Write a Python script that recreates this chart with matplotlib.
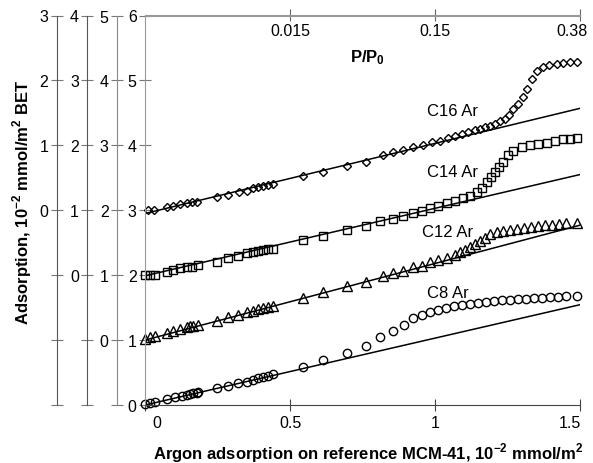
import numpy as np
import matplotlib.pyplot as plt
from matplotlib.transforms import ScaledTranslation

plt.rcParams['font.family'] = ['Liberation Sans', 'DejaVu Sans']
plt.rcParams['mathtext.fontset'] = 'custom'
plt.rcParams['mathtext.rm'] = 'Liberation Sans'
plt.rcParams['mathtext.bf'] = 'Liberation Sans:bold'

# Ar adsorption on the reference MCM-41 (x) vs adsorption on the samples (own axis units)
x_c8 = [0.0, 0.017, 0.034, 0.075, 0.103, 0.126, 0.144, 0.155, 0.167, 0.178,
        0.184, 0.247, 0.287, 0.322, 0.351, 0.374, 0.391, 0.408, 0.425, 0.44,
        0.546, 0.613, 0.695, 0.761, 0.81, 0.855, 0.893, 0.924, 0.955, 0.983,
        1.01, 1.038, 1.066, 1.093, 1.121, 1.148, 1.176, 1.203, 1.231, 1.259,
        1.286, 1.314, 1.341, 1.369, 1.397, 1.424, 1.452, 1.49]
y_c8 = [0.01, 0.03, 0.05, 0.09, 0.12, 0.14, 0.16, 0.17, 0.18, 0.19,
        0.2, 0.26, 0.3, 0.34, 0.36, 0.39, 0.41, 0.43, 0.45, 0.47,
        0.59, 0.69, 0.8, 0.91, 1.04, 1.14, 1.24, 1.34, 1.39, 1.43,
        1.46, 1.49, 1.52, 1.54, 1.56, 1.57, 1.59, 1.6, 1.61, 1.62,
        1.63, 1.64, 1.65, 1.65, 1.66, 1.67, 1.68, 1.68]

x_c12 = [0.0, 0.017, 0.034, 0.075, 0.097, 0.121, 0.144, 0.155, 0.166, 0.183,
         0.247, 0.286, 0.321, 0.351, 0.372, 0.39, 0.407, 0.424, 0.44, 0.545,
         0.613, 0.695, 0.761, 0.821, 0.855, 0.89, 0.924, 0.955, 0.983, 1.01,
         1.041, 1.069, 1.086, 1.103, 1.121, 1.138, 1.155, 1.172, 1.19, 1.214,
         1.234, 1.259, 1.283, 1.307, 1.331, 1.355, 1.379, 1.403, 1.428, 1.452,
         1.49]
y_c12 = [0.01, 0.04, 0.06, 0.11, 0.14, 0.17, 0.2, 0.21, 0.22, 0.23,
         0.3, 0.35, 0.39, 0.43, 0.45, 0.48, 0.49, 0.51, 0.53, 0.65,
         0.74, 0.83, 0.9, 0.98, 1.03, 1.06, 1.12, 1.14, 1.2, 1.23,
         1.27, 1.31, 1.35, 1.38, 1.43, 1.48, 1.52, 1.58, 1.63, 1.66,
         1.68, 1.69, 1.71, 1.72, 1.74, 1.75, 1.77, 1.78, 1.79, 1.8,
         1.81]

x_c14 = [0.0, 0.017, 0.034, 0.075, 0.098, 0.121, 0.144, 0.161, 0.184, 0.247,
         0.287, 0.322, 0.351, 0.374, 0.391, 0.408, 0.425, 0.442, 0.546, 0.613,
         0.695, 0.761, 0.81, 0.855, 0.89, 0.924, 0.955, 0.983, 1.01, 1.041,
         1.069, 1.097, 1.121, 1.145, 1.162, 1.179, 1.193, 1.207, 1.221, 1.234,
         1.252, 1.269, 1.3, 1.328, 1.355, 1.386, 1.414, 1.441, 1.466, 1.49]
y_c14 = [0.0, 0.0, 0.01, 0.05, 0.08, 0.11, 0.12, 0.13, 0.15, 0.21,
         0.26, 0.3, 0.34, 0.35, 0.37, 0.39, 0.4, 0.41, 0.54, 0.61,
         0.69, 0.76, 0.84, 0.87, 0.91, 0.96, 0.99, 1.04, 1.07, 1.11,
         1.14, 1.19, 1.22, 1.28, 1.34, 1.44, 1.51, 1.59, 1.67, 1.75,
         1.85, 1.91, 1.97, 2.0, 2.02, 2.04, 2.07, 2.09, 2.1, 2.11]

x_c16 = [0.01, 0.03, 0.075, 0.098, 0.121, 0.144, 0.161, 0.178, 0.247, 0.286,
         0.325, 0.351, 0.374, 0.391, 0.408, 0.425, 0.442, 0.546, 0.615, 0.695,
         0.761, 0.821, 0.855, 0.89, 0.924, 0.959, 0.99, 1.017, 1.045, 1.069,
         1.093, 1.114, 1.138, 1.155, 1.172, 1.19, 1.207, 1.224, 1.241, 1.255,
         1.269, 1.286, 1.303, 1.317, 1.334, 1.352, 1.372, 1.393, 1.421, 1.441,
         1.466, 1.49]
y_c16 = [0.0, 0.01, 0.05, 0.07, 0.09, 0.11, 0.12, 0.13, 0.2, 0.24,
         0.28, 0.3, 0.34, 0.36, 0.38, 0.39, 0.4, 0.52, 0.59, 0.68,
         0.75, 0.85, 0.89, 0.93, 0.97, 1.01, 1.05, 1.07, 1.11, 1.14,
         1.18, 1.2, 1.23, 1.25, 1.28, 1.3, 1.33, 1.37, 1.41, 1.47,
         1.56, 1.64, 1.74, 1.87, 2.02, 2.15, 2.2, 2.23, 2.25, 2.27,
         2.28, 2.29]

names = ['C8 Ar', 'C12 Ar', 'C14 Ar', 'C16 Ar']
offsets = [0, 1, 2, 3]
# linear fits of the low-pressure part: intercept, slope
fit_c8 = [0.0, 1.03]
fit_c12 = [0.0, 1.18]
fit_c14 = [-0.01, 1.04]
fit_c16 = [-0.05, 1.08]

pp0_pos = [0.5, 1.0, 1.5]
pp0_labels = ['0.015', '0.15', '0.38']

series = [(x_c8, y_c8, fit_c8, 'o', 6.0),
          (x_c12, y_c12, fit_c12, '^', 6.5),
          (x_c14, y_c14, fit_c14, 's', 5.8),
          (x_c16, y_c16, fit_c16, 'D', 4.3)]
label_pos = [(1.045, 1.74), (1.045, 2.68), (1.062, 3.6), (1.062, 4.53)]

fig = plt.figure(figsize=(5.93, 4.64), dpi=100)
W, H = 593, 464
ax = fig.add_axes([145 / W, 1 - 406 / H, 435 / W, 389.5 / H])
ax.set_xlim(0, 1.5)
ax.set_ylim(0, 6)

xl = np.array([0, 1.5])
for (xs, ys, fit, mk, ms), off, name, lp in zip(series, offsets, names, label_pos):
    ax.plot(xl, fit[0] + fit[1] * xl + off, color='black', lw=1.1)
    ax.plot(xs, np.array(ys) + off, linestyle='none', marker=mk, ms=ms,
            mfc='none', mec='black', mew=1.0, clip_on=False)
    ax.text(lp[0], lp[1], name, fontsize=12, ha='center', va='center')

spine_gray = '#777777'
tick_kw = dict(direction='inout', length=8, width=0.8, color=spine_gray,
               labelsize=11.5)
ax.spines['right'].set_visible(False)
ax.spines['top'].set_color('#999999')
ax.spines['left'].set_color('#999999')
ax.spines['bottom'].set_color('#444444')
ax.set_yticks(range(0, 7))
ax.tick_params(axis='y', pad=2, **tick_kw)
ax.tick_params(axis='x', direction='inout', length=8, width=0.8,
               color='#444444', labelsize=11.5, pad=3)
ax.set_xticks([0, 0.5, 1, 1.5])
ax.set_xticklabels(['0', '0.5', '1', '1.5'])
xt = ax.get_xticklabels()
xt[0].set_transform(xt[0].get_transform() + ScaledTranslation(12 / 100, 0, fig.dpi_scale_trans))
xt[-1].set_transform(xt[-1].get_transform() + ScaledTranslation(-10 / 100, 0, fig.dpi_scale_trans))

# offset y axes for the shifted curves
for off, px in zip([1, 2, 3], [-28, -57.7, -88.3]):
    tw = ax.twinx()
    tw.set_ylim(-off, 6 - off)
    tw.yaxis.tick_left()
    for s in ['right', 'top', 'bottom']:
        tw.spines[s].set_visible(False)
    tw.spines['left'].set_visible(True)
    tw.spines['left'].set_position(('axes', px / 435))
    tw.spines['left'].set_color('#555555' if off > 1 else '#888888')
    vals = list(range(-off, 7 - off))
    tw.set_yticks(vals)
    tw.set_yticklabels([str(v) if v >= 0 else '' for v in vals])
    tw.tick_params(axis='y', pad=2, **tick_kw)

# relative pressure on top
sec = ax.secondary_xaxis('top')
sec.set_xticks(pp0_pos)
sec.set_xticklabels(pp0_labels)
sec.tick_params(axis='x', direction='inout', length=8, width=0.8,
                color='#666666', labelsize=11.5, pad=-20)
sec.spines['top'].set_color('#999999')
st = sec.get_xticklabels()
st[-1].set_transform(st[-1].get_transform() + ScaledTranslation(-8 / 100, 0, fig.dpi_scale_trans))
ax.text(0.766, 5.36, r'$\mathbf{P/P_0}$', fontsize=12, ha='center', va='center')

fig.text(22 / W, 1 - 202 / H, r'Adsorption, 10$^{\mathbf{-2}}$ mmol/m$^{\mathbf{2}}$ BET',
         rotation=90, fontsize=12, fontweight='bold', ha='center', va='center')
fig.text(368 / W, 1 - 453 / H,
         r'Argon adsorption on reference MCM-41, 10$^{\mathbf{-2}}$ mmol/m$^{\mathbf{2}}$',
         fontsize=12, fontweight='bold', ha='center', va='center')

fig.savefig('out.png', dpi=100)
